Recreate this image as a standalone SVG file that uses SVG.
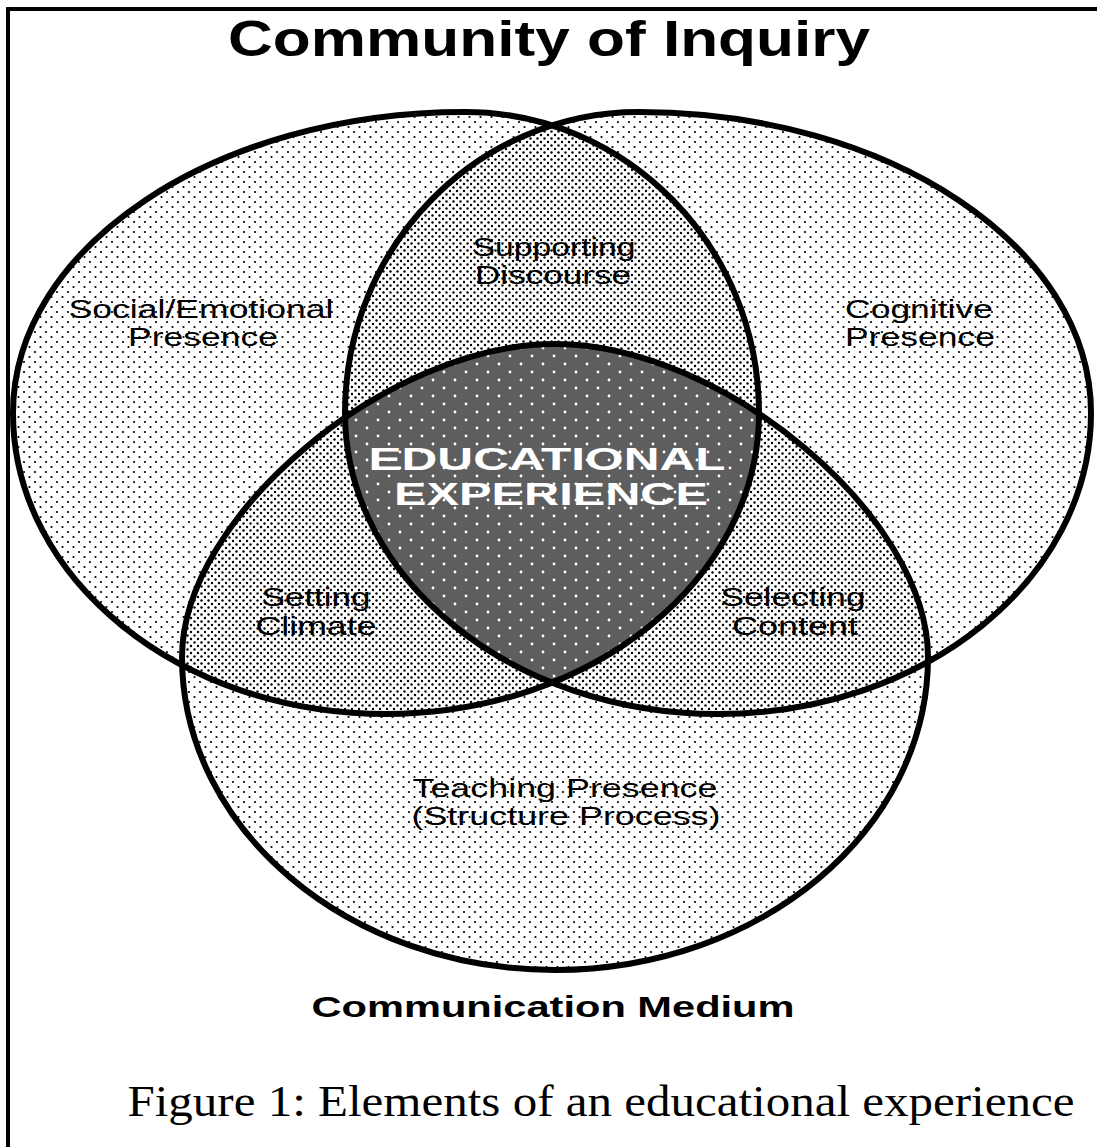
<svg xmlns="http://www.w3.org/2000/svg" xmlns:xlink="http://www.w3.org/1999/xlink" width="1097" height="1147" viewBox="0 0 1097 1147">
<style>
.lbl{font-family:"Liberation Sans",Arial,sans-serif;font-size:25px;fill:#000;text-anchor:middle}
.big{font-family:"Liberation Sans",Arial,sans-serif;font-weight:bold;fill:#000;text-anchor:middle}
.core{font-family:"Liberation Sans",Arial,sans-serif;font-weight:bold;font-size:31px;fill:#fff;text-anchor:middle}
.cap{font-family:"Liberation Serif","Times New Roman",serif;font-size:44px;fill:#000;text-anchor:middle}
.ring{fill:none;stroke:#000;stroke-width:6}
</style>
<defs>
<pattern id="p1" width="11" height="10" patternUnits="userSpaceOnUse">
<rect width="11" height="10" fill="#fff"/>
<circle cx="2" cy="2" r="1.1" fill="#000"/>
<circle cx="7.5" cy="7" r="1.1" fill="#000"/>
</pattern>
<pattern id="p2" width="7" height="7" patternUnits="userSpaceOnUse">
<rect width="7" height="7" fill="#fff"/>
<circle cx="2" cy="2" r="1.2" fill="#000"/>
<circle cx="5.5" cy="5.5" r="1.2" fill="#000"/>
</pattern>
<pattern id="p3" width="22" height="16" patternUnits="userSpaceOnUse">
<rect width="22" height="16" fill="#5e5e5e"/>
<circle cx="4" cy="4" r="1.4" fill="#fff"/>
<circle cx="15" cy="12" r="1.4" fill="#fff"/>
</pattern>
<path id="shL" d="M13 413 C13 246.8 215.4 112 465 112 C627.4 112 759 246.8 759 413 C759 579.2 592 714 386 714 C180 714 13 579.2 13 413 Z"/>
<path id="shR" d="M345 413 C345 246.8 476.6 112 639 112 C888.6 112 1091 246.8 1091 413 C1091 579.2 924 714 718 714 C512 714 345 579.2 345 413 Z"/>
<path id="shB" d="M182 657 C182 516.2 387.1 344 555 344 C722.9 344 928 516.2 928 657 C928 829.9 761 970 555 970 C349 970 182 829.9 182 657 Z"/>
<clipPath id="cL"><use xlink:href="#shL"/></clipPath>
<clipPath id="cR"><use xlink:href="#shR"/></clipPath>
</defs>
<rect width="1097" height="1147" fill="#fff"/>
<path d="M8 1147 V9 H1097" fill="none" stroke="#000" stroke-width="4"/>
<text class="big" x="549" y="56" font-size="50" textLength="642" lengthAdjust="spacingAndGlyphs">Community of Inquiry</text>

<g id="fills">
<use xlink:href="#shL" fill="url(#p1)"/>
<use xlink:href="#shR" fill="url(#p1)"/>
<use xlink:href="#shB" fill="url(#p1)"/>
<g clip-path="url(#cL)"><use xlink:href="#shR" fill="url(#p2)"/><use xlink:href="#shB" fill="url(#p2)"/></g>
<g clip-path="url(#cR)"><use xlink:href="#shB" fill="url(#p2)"/></g>
<g clip-path="url(#cL)"><g clip-path="url(#cR)"><use xlink:href="#shB" fill="url(#p3)"/></g></g>
</g>

<g id="node-social">
<use xlink:href="#shL" class="ring"/>
<text class="lbl" x="201" y="318" textLength="265" lengthAdjust="spacingAndGlyphs">Social/Emotional</text>
<text class="lbl" x="203" y="346" textLength="150" lengthAdjust="spacingAndGlyphs">Presence</text>
</g>
<g id="node-cognitive">
<use xlink:href="#shR" class="ring"/>
<text class="lbl" x="919" y="318" textLength="148" lengthAdjust="spacingAndGlyphs">Cognitive</text>
<text class="lbl" x="920" y="346" textLength="150" lengthAdjust="spacingAndGlyphs">Presence</text>
</g>
<g id="node-teaching">
<use xlink:href="#shB" class="ring"/>
<text class="lbl" x="565" y="797" textLength="305" lengthAdjust="spacingAndGlyphs">Teaching Presence</text>
<text class="lbl" x="566" y="825" textLength="309" lengthAdjust="spacingAndGlyphs">(Structure Process)</text>
</g>
<g id="node-discourse">
<text class="lbl" x="554" y="256" textLength="163" lengthAdjust="spacingAndGlyphs">Supporting</text>
<text class="lbl" x="553" y="284" textLength="156" lengthAdjust="spacingAndGlyphs">Discourse</text>
</g>
<g id="node-climate">
<text class="lbl" x="316" y="606" textLength="109" lengthAdjust="spacingAndGlyphs">Setting</text>
<text class="lbl" x="316" y="635" textLength="121" lengthAdjust="spacingAndGlyphs">Climate</text>
</g>
<g id="node-content">
<text class="lbl" x="793" y="606" textLength="145" lengthAdjust="spacingAndGlyphs">Selecting</text>
<text class="lbl" x="795" y="635" textLength="126" lengthAdjust="spacingAndGlyphs">Content</text>
</g>
<g id="node-experience">
<text class="core" x="547" y="470" textLength="357" lengthAdjust="spacingAndGlyphs">EDUCATIONAL</text>
<text class="core" x="551" y="505" textLength="314" lengthAdjust="spacingAndGlyphs">EXPERIENCE</text>
</g>
<g id="connectors"></g>
<text class="big" x="553" y="1017" font-size="30" textLength="483" lengthAdjust="spacingAndGlyphs">Communication Medium</text>
<text class="cap" x="601" y="1116" textLength="947" lengthAdjust="spacingAndGlyphs">Figure 1: Elements of an educational experience</text>
</svg>
